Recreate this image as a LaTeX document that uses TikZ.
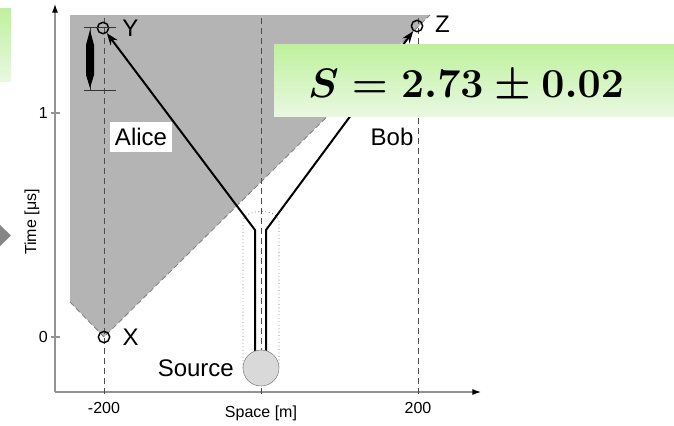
\documentclass[tikz,border=0pt]{standalone}
\usepackage[no-math]{fontspec}
\newfontfamily\arialfont{Liberation Sans}
\usetikzlibrary{positioning, arrows.meta}
\definecolor{greentop}{RGB}{190,241,156}
\definecolor{greenbot}{RGB}{233,248,226}
\definecolor{conegray}{RGB}{180,180,180}
\definecolor{srcgray}{RGB}{217,217,217}
\begin{document}
\begin{tikzpicture}[x=0.75pt, y=-0.75pt, line join=round, >={Stealth[length=9pt, width=6.5pt]},
		font=\arialfont\fontsize{18}{20}\selectfont,
		axis/.style={draw=gray!85, line width=0.8pt},
		axisarrow/.style={-{Latex[length=6.5pt, width=4.5pt, black]}},
		guide/.style={draw=black!70, line width=0.6pt, dash pattern=on 4.5pt off 3pt},
		fibre/.style={line width=1.5pt},
		event/.style={circle, draw, line width=1.1pt, minimum size=8.5pt, inner sep=0pt},
		lbl/.style={inner sep=0pt},
		tick/.style={inner sep=0pt, font=\arialfont\fontsize{12}{14}\selectfont}]
	\useasboundingbox (0,0) rectangle (674,425);
	% leftovers of the previous slide
	\shade[top color=greentop, bottom color=greenbot] (0,8) rectangle (11,81);
	\fill[gray!95] (0,225) -- (11,235.5) -- (0,246) -- cycle;
	% region outside the light cone of X
	\fill[conegray] (70,15) -- (430,15) -- (104,337) -- (70,302) -- cycle;
	\draw[black!50, line width=0.6pt, dash pattern=on 4pt off 2.5pt] (70,302) -- (104,337) -- (430,15);
	% axes
	\draw[axis, axisarrow] (55,392) -- (481,392);
	\draw[axis, axisarrow] (55,392) -- (55,4);
	\foreach \gx in {104,261,418}
	\draw[guide] (\gx,18) -- (\gx,398);
	\foreach \ty/\tl in {113/1, 337/0} {
		\draw[axis] (51,\ty) -- (60,\ty);
		\node[tick, anchor=east] (tk\tl) at (48,\ty) {\tl};
	}
	\node[tick] (xmin) at (104,408) {-200};
	\node[tick] (xmax) at (418,408) {200};
	\node[tick] (xname) at (261,413) {Space [m]};
	\node[tick, rotate=90] (yname) at (32,222) {Time [μs]};
	% source and fibres
	\draw[black!55, dotted, line width=0.6pt] (243,368) -- (243,222) .. controls (243,208) and (279,208) .. (279,222) -- (279,368);
	\node[event] (X) at (104,337) {};
	\node[event] (Y) at (103,28) {};
	\node[event] (Z) at (417,26) {};
	\coordinate (lbot) at (255,352);
	\coordinate (lknee) at (255,230);
	\coordinate (rbot) at (266,352);
	\coordinate (rknee) at (266,230);
	\draw[fibre, ->] (lbot) -- (lknee) -- (Y);
	\draw[fibre, ->] (rbot) -- (rknee) -- (Z);
	\node[circle, draw=gray, fill=srcgray, minimum size=27pt, inner sep=0pt] (src) at (261,368) {};
	\node[lbl, left=6.5pt of src] (srclbl) {Source};
	\node[lbl, right=9pt of X] (Xlbl) {X};
	\node[lbl, right=9.5pt of Y] (Ylbl) {Y};
	\node[lbl, right=8.5pt of Z, yshift=1pt] (Zlbl) {Z};
	% timing error bar
	\draw[black!80, line width=0.6pt] (84,27) -- (116,27) (84,90) -- (116,90) (90,27) -- (90,90);
	\fill (90,30) -- (94,45) -- (94,75) -- (90,88) -- (86,75) -- (86,45) -- cycle;
	\node[lbl, fill=white, inner xsep=3.4pt, inner ysep=4.5pt] (alice) at (141,137) {Alice};
	\node[lbl] (bob) at (392,137) {Bob};
	% result
	\shade[top color=greentop, bottom color=greenbot] (274,44) rectangle (674,116);
	\node[anchor=base, inner sep=0pt, font=\Huge] (res) at (466,97) {\scalebox{1.24}{\boldmath$S = 2.73 \pm 0.02$}};
\end{tikzpicture}
\end{document}
